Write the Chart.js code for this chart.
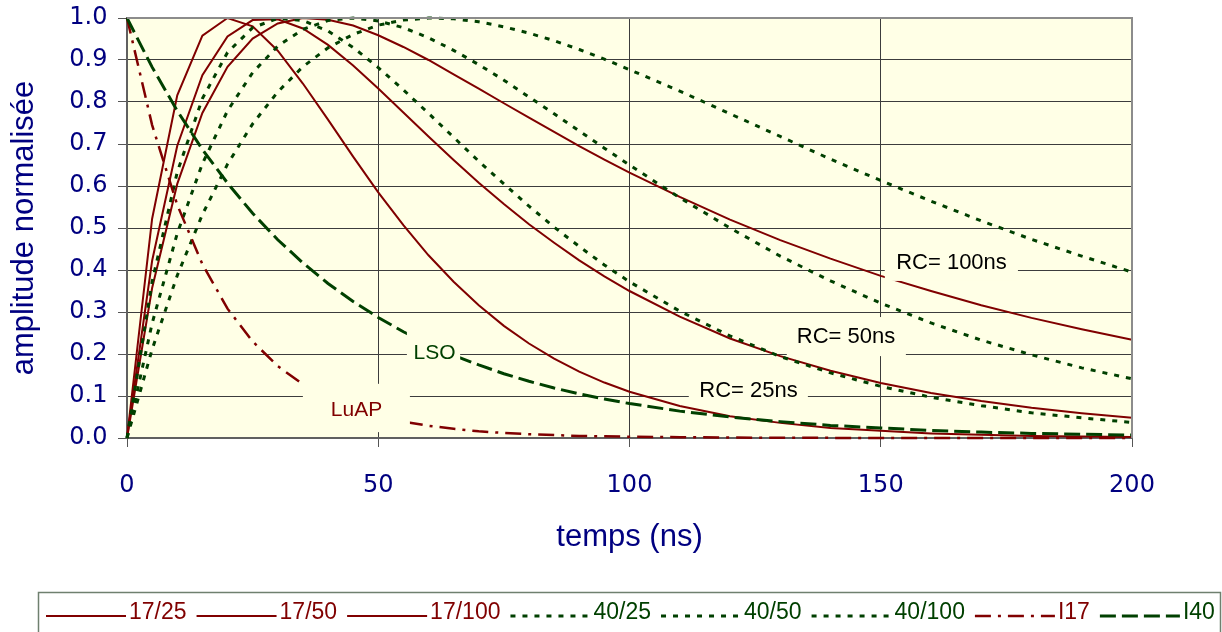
<!DOCTYPE html>
<html>
<head>
<meta charset="utf-8">
<script src="https://cdn.jsdelivr.net/npm/chart.js@4.4.1/dist/chart.umd.min.js"></script>
<style>
html,body{margin:0;padding:0;background:#ffffff;}
#wrap{width:1222px;height:632px;position:relative;overflow:hidden;}
canvas{display:block;}
</style>
</head>
<body>
<div id="wrap"><canvas id="c" width="1222" height="632" style="width:1222px;height:632px"></canvas></div>
<script>
// ---- data ----
const times = [0,5,10,15,20,25,30,35,40,45,50,55,60,65,70,75,80,85,90,95,100,110,120,130,140,150,160,170,180,190,200];
const s17_25  = [0,0.522,0.816,0.958,1.000,0.980,0.922,0.844,0.758,0.670,0.585,0.507,0.435,0.372,0.316,0.267,0.225,0.189,0.158,0.132,0.110,0.076,0.052,0.036,0.024,0.017,0.011,0.0075,0.005,0.0035,0.0023];
const s17_50  = [0,0.422,0.696,0.864,0.956,0.995,0.997,0.975,0.936,0.887,0.832,0.775,0.718,0.662,0.608,0.557,0.509,0.465,0.423,0.385,0.350,0.289,0.237,0.195,0.160,0.131,0.107,0.088,0.072,0.059,0.048];
const s17_100 = [0,0.357,0.605,0.774,0.884,0.951,0.987,1.000,0.996,0.982,0.959,0.931,0.900,0.866,0.832,0.797,0.763,0.729,0.695,0.663,0.632,0.574,0.520,0.471,0.427,0.386,0.350,0.316,0.286,0.259,0.234];
const s40_25  = [0,0.372,0.633,0.808,0.918,0.977,0.999,0.994,0.969,0.930,0.882,0.829,0.773,0.716,0.659,0.605,0.552,0.502,0.456,0.412,0.372,0.302,0.243,0.194,0.155,0.123,0.097,0.077,0.060,0.048,0.037];
const s40_50  = [0,0.273,0.487,0.653,0.779,0.870,0.933,0.973,0.994,1.000,0.993,0.977,0.953,0.923,0.889,0.852,0.812,0.772,0.731,0.690,0.650,0.572,0.500,0.433,0.374,0.321,0.274,0.233,0.198,0.167,0.141];
const s40_100 = [0,0.211,0.387,0.532,0.652,0.748,0.824,0.884,0.929,0.961,0.983,0.995,1.000,0.998,0.991,0.979,0.964,0.946,0.925,0.902,0.877,0.826,0.772,0.718,0.664,0.613,0.564,0.517,0.473,0.433,0.395];
const sI17    = [1,0.745,0.555,0.414,0.308,0.230,0.171,0.128,0.095,0.071,0.053,0.039,0.029,0.022,0.016,0.012,0.009,0.007,0.005,0.004,0.003,0.002,0.001,0.0005,0.0003,0.0002,0.0001,0,0,0,0];
const sI40    = [1,0.883,0.779,0.687,0.607,0.535,0.472,0.417,0.368,0.325,0.287,0.253,0.223,0.197,0.174,0.153,0.135,0.119,0.105,0.093,0.082,0.064,0.050,0.039,0.030,0.024,0.018,0.014,0.011,0.009,0.007];
const seriesNames = ['17/25','17/50','17/100','40/25','40/50','40/100','I17','I40'];
const seriesValues = [s17_25,s17_50,s17_100,s40_25,s40_50,s40_100,sI17,sI40];
const noteTexts = ['LuAP','LSO','RC= 25ns','RC= 50ns','RC= 100ns'];
const xTitle = 'temps (ns)';
const yTitle = 'amplitude normalisée';

// ---- styles & layout ----
const RED = '#800000', GREEN = '#004000', NAVY = '#000080';
const PLOT_BG = 'rgb(255,255,230)';
const seriesStyles = [
  {c:RED, w:2, d:[]}, {c:RED, w:2, d:[]}, {c:RED, w:2, d:[]},
  {c:GREEN, w:3, d:[5,7]}, {c:GREEN, w:3, d:[5,7]}, {c:GREEN, w:3, d:[5,7]},
  {c:RED, w:2.5, d:[16,7,3,7]}, {c:GREEN, w:3, d:[16,6]}
];
// label centre (data coords), background box [x0,x1,y0,y1] in data coords
const noteLayout = [
  {x:45.67, y:0.0655, box:[35.0,56.3,0.014,0.129], color:RED, size:21},
  {x:61.19, y:0.2012, box:[55.7,66.3,0.150,0.255], color:GREEN, size:21},
  {x:123.68, y:0.1119, box:[111.8,135.5,0.076,0.145], color:'#000000', size:22},
  {x:143.08, y:0.2405, box:[131.3,155.0,0.195,0.288], color:'#000000', size:22},
  {x:164.08, y:0.4167, box:[150.8,177.3,0.374,0.455], color:'#000000', size:22}
];

const datasets = seriesNames.map((name,i)=>({
  label: name,
  data: times.map((t,k)=>({x:t, y:seriesValues[i][k]})),
  borderColor: seriesStyles[i].c,
  backgroundColor: seriesStyles[i].c,
  borderWidth: seriesStyles[i].w,
  borderDash: seriesStyles[i].d,
  pointRadius: 0,
  tension: 0,
  fill: false,
  clip: 6,
  order: seriesNames.length - i
}));

const bgPlugin = {
  id:'plotBg',
  beforeDraw(chart){
    const {ctx, chartArea:a} = chart;
    ctx.save();
    ctx.fillStyle = PLOT_BG;
    ctx.fillRect(a.left, a.top, a.right-a.left, a.bottom-a.top);
    ctx.restore();
  }
};

const notesPlugin = {
  id:'notes',
  afterDatasetsDraw(chart){
    const {ctx, scales:{x, y}} = chart;
    ctx.save();
    noteLayout.forEach((n,i)=>{
      const x0 = x.getPixelForValue(n.box[0]), x1 = x.getPixelForValue(n.box[1]);
      const y0 = y.getPixelForValue(n.box[3]), y1 = y.getPixelForValue(n.box[2]);
      ctx.fillStyle = PLOT_BG;
      ctx.fillRect(x0, y0, x1-x0, y1-y0);
      ctx.fillStyle = n.color;
      ctx.font = n.size + 'px "Liberation Sans", Arial, sans-serif';
      ctx.textAlign = 'center';
      ctx.textBaseline = 'middle';
      ctx.fillText(noteTexts[i], x.getPixelForValue(n.x), y.getPixelForValue(n.y));
    });
    ctx.restore();
  }
};

const framePlugin = {
  id:'frame',
  afterDraw(chart){
    const {ctx, chartArea:a} = chart;
    ctx.save();
    ctx.strokeStyle = '#8c8c8c';
    ctx.lineWidth = 2;
    ctx.beginPath();
    ctx.moveTo(a.left, a.top);
    ctx.lineTo(a.right, a.top);
    ctx.lineTo(a.right, a.bottom);
    ctx.stroke();
    ctx.restore();
  }
};

const legendPlugin = {
  id:'boxLegend',
  afterDraw(chart){
    const ctx = chart.ctx;
    ctx.save();
    ctx.strokeStyle = '#6f806f';
    ctx.lineWidth = 1.5;
    ctx.strokeRect(38.5, 592.5, 1182, 60);
    ctx.font = '23px "Liberation Sans", Arial, sans-serif';
    ctx.textBaseline = 'middle';
    ctx.textAlign = 'left';
    let px = 46;
    chart.data.datasets.forEach(ds=>{
      ctx.beginPath();
      ctx.setLineDash(ds.borderDash || []);
      ctx.lineWidth = ds.borderWidth;
      ctx.strokeStyle = ds.borderColor;
      ctx.moveTo(px, 616);
      ctx.lineTo(px+80, 616);
      ctx.stroke();
      ctx.setLineDash([]);
      ctx.fillStyle = ds.borderColor;
      ctx.fillText(ds.label, px+83, 612.5);
      px += 80 + 3 + ctx.measureText(ds.label).width + 10;
    });
    ctx.restore();
  }
};

new Chart(document.getElementById('c'), {
  type: 'line',
  data: { datasets },
  options: {
    responsive: false,
    animation: false,
    devicePixelRatio: 1,
    events: [],
    layout: { padding: { left: 0, right: 90, top: 18, bottom: 0 } },
    plugins: { legend: { display: false }, tooltip: { enabled: false } },
    scales: {
      x: {
        type: 'linear', min: 0, max: 200,
        afterFit(s){ s.height = 194; s.paddingLeft = 0; s.paddingRight = 0; },
        ticks: { stepSize: 50, color: NAVY, padding: 24.6, maxRotation: 0,
                 font: { family: 'DejaVu Sans', size: 24 } },
        grid: { color: '#3c3c3c', lineWidth: 1, drawTicks: true, tickLength: 9, tickColor: '#555555' },
        border: { display: true, color: '#606060', width: 2 },
        title: { display: true, text: xTitle, color: NAVY,
                 font: { family: '"Liberation Sans", Arial, sans-serif', size: 31 },
                 padding: { top: 0, bottom: 76.4 } }
      },
      y: {
        type: 'linear', min: 0, max: 1,
        afterFit(s){ s.width = 127; s.paddingTop = 0; s.paddingBottom = 0; },
        ticks: { stepSize: 0.1, color: NAVY, padding: 10.6,
                 font: { family: 'DejaVu Sans', size: 24 },
                 callback: v => Number(v).toFixed(1) },
        grid: { color: '#3c3c3c', lineWidth: 1, drawTicks: true, tickLength: 9, tickColor: '#555555' },
        border: { display: true, color: '#606060', width: 2 },
        title: { display: true, text: yTitle, color: NAVY,
                 font: { family: '"Liberation Sans", Arial, sans-serif', size: 31 },
                 padding: { top: 5.7, bottom: 0 } }
      }
    }
  },
  plugins: [bgPlugin, notesPlugin, framePlugin, legendPlugin]
});
</script>
</body>
</html>
